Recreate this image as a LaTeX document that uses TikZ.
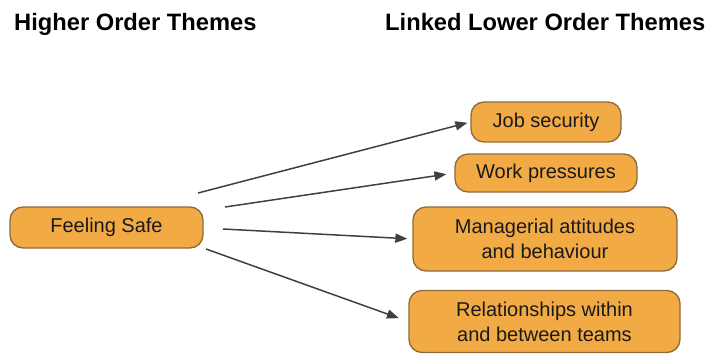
\documentclass[tikz,border=0pt]{standalone}
\usepackage{fontspec}
\setmainfont{Liberation Sans}
\usetikzlibrary{arrows.meta}
\definecolor{boxfill}{HTML}{F2AA45}
\definecolor{boxline}{HTML}{8E6A38}
\definecolor{arrowc}{HTML}{404040}
\definecolor{txt}{HTML}{1A1A1A}
\tikzset{
  theme/.style={draw=boxline, line width=1.3pt, fill=boxfill, rounded corners=13pt,
    inner sep=0pt, align=center, text=txt, font=\fontsize{20}{25}\selectfont},
  heading/.style={anchor=base west, inner sep=0pt, font=\bfseries\fontsize{23.7}{28}\selectfont},
  link/.style={draw=arrowc, line width=1.5pt, -{Triangle[length=12pt,width=9pt]}}
}
\begin{document}
\begin{tikzpicture}[x=1pt,y=-1pt]
\useasboundingbox (0,0) rectangle (710,354);
\node[heading] (h1) at (14,30) {Higher Order Themes};
\node[heading] (h2) at (385,30) {Linked Lower Order Themes};
\node[theme, minimum width=193pt, minimum height=41pt] (fs) at (106.5,227.5) {\raisebox{-1.5pt}{Feeling Safe}};
\node[theme, minimum width=150pt, minimum height=40pt] (js) at (546,122) {\raisebox{-1.5pt}{Job security}};
\node[theme, minimum width=182pt, minimum height=38pt] (wp) at (546,173) {\raisebox{-1.5pt}{Work pressures}};
\node[theme, minimum width=264pt, minimum height=64pt] (ma) at (545,239) {Managerial attitudes\\ and behaviour};
\node[theme, minimum width=271pt, minimum height=62pt] (rel) at (544.5,321.5) {Relationships within\\ and between teams};
\coordinate (s1) at (198,193);
\coordinate (s2) at (225,207);
\coordinate (s3) at (223,229);
\coordinate (s4) at (206,249);
\draw[link, shorten >=3pt] (s1) -- (js.west);
\draw[link, shorten >=8pt] (s2) -- (wp.west);
\draw[link, shorten >=5pt] (s3) -- (ma.west);
\draw[link, shorten >=10pt] (s4) -- (rel.west);
\end{tikzpicture}
\end{document}
